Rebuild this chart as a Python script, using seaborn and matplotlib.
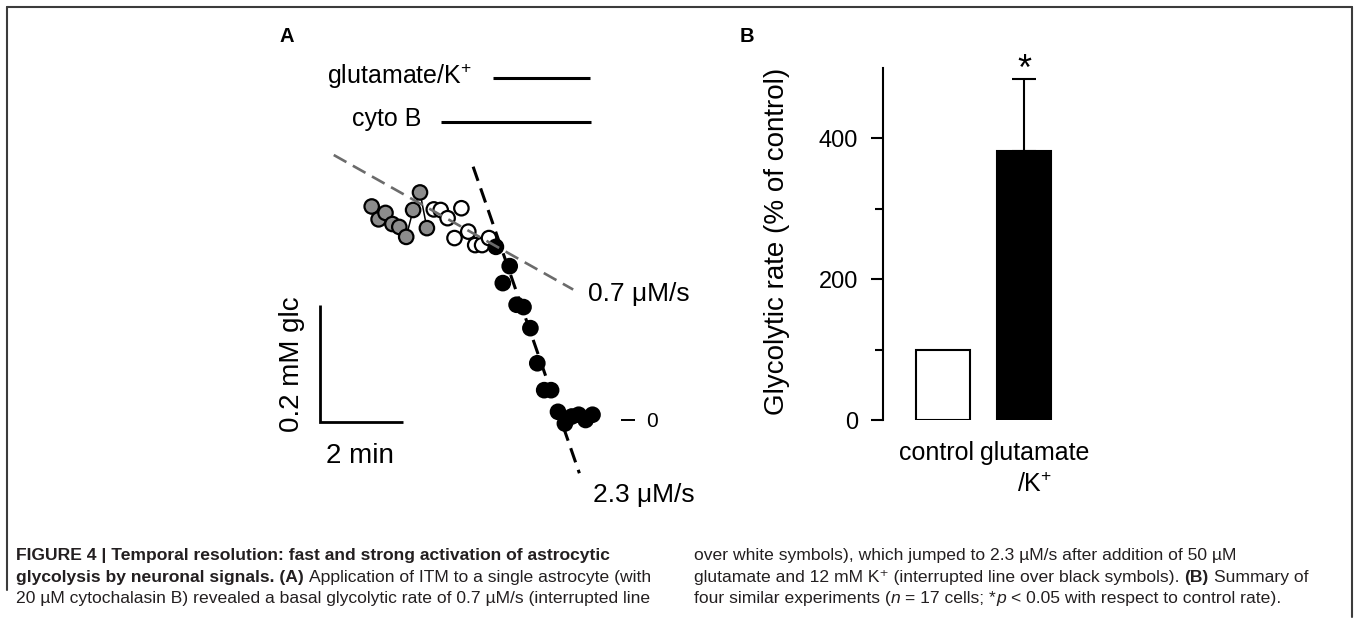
import numpy as np
import pandas as pd
import matplotlib
matplotlib.use("Agg")
import matplotlib.pyplot as plt
import seaborn as sns
from matplotlib import font_manager
from matplotlib.lines import Line2D
from matplotlib.transforms import ScaledTranslation

# ---------------- data: panel A (single astrocyte trace) ----------------
time_s = [0, 10, 20, 30, 40, 50, 60, 70, 80,
          90, 100, 110, 120, 130, 140, 150, 160, 170,
          180, 190, 200, 210, 220, 230, 240, 250, 260, 270, 280, 290, 300, 310, 320]
glc_mM = [0.365, 0.343, 0.354, 0.335, 0.330, 0.313, 0.359, 0.389, 0.328,
          0.360, 0.359, 0.345, 0.311, 0.362, 0.322, 0.299, 0.299, 0.311,
          0.296, 0.234, 0.263, 0.197, 0.193, 0.157, 0.097, 0.051, 0.051,
          0.014, -0.006, 0.006, 0.009, 0.000, 0.009]
phase = ["control"] * 9 + ["cyto B"] * 9 + ["glutamate/K+"] * 15
basal_fit_t = [-55, 292]
basal_fit_glc = [0.453, 0.223]
stim_fit_t = [147, 301]
stim_fit_glc = [0.433, -0.091]
glu_period_t = [176, 316]
cyto_period_t = [100, 318]
scale_t_s = 120
scale_glc_mM = 0.2
rate_labels = ["0.7 \u03bcM/s", "2.3 \u03bcM/s"]

# ---------------- data: panel B (summary) ----------------
conditions = ["control", "glutamate\n/K$^{+}$"]
rate_pct = [100, 382]
sem_pct = [0, 102]
yticks_major = [0, 200, 400]
yticks_minor = [100, 300]

# ---------------- style ----------------
sns.set_theme(style="white")
plt.rcParams["font.family"] = ["Liberation Sans", "DejaVu Sans"]
plt.rcParams["text.color"] = "black"
plt.rcParams["axes.labelcolor"] = "black"
plt.rcParams["xtick.color"] = "black"
plt.rcParams["ytick.color"] = "black"
plt.rcParams["mathtext.fontset"] = "custom"
plt.rcParams["mathtext.rm"] = "Liberation Sans"
plt.rcParams["mathtext.it"] = "Liberation Sans:italic"
plt.rcParams["mathtext.bf"] = "Liberation Sans:bold"

names = {f.name for f in font_manager.fontManager.ttflist}
cap_family = "Liberation Sans Narrow" if "Liberation Sans Narrow" in names else "Liberation Sans"

W, H = 1354, 623
fig = plt.figure(figsize=(W / 100, H / 100), dpi=100)
fig.patch.set_facecolor("white")


def fpos(x, y):
    return x / W, 1 - y / H


def add_axes_px(left, top, right, bottom):
    return fig.add_axes([left / W, 1 - bottom / H, (right - left) / W, (bottom - top) / H])


# ---------------- panel A ----------------
X0, PXS = 371.7, 0.69      # pixel of t=0, pixels per second
Y0, PXG = 420.0, 585.0     # pixel of glc=0, pixels per mM
L, T, R, B = 270, 20, 720, 520
axA = add_axes_px(L, T, R, B)
axA.set_xlim((L - X0) / PXS, (R - X0) / PXS)
axA.set_ylim((Y0 - B) / PXG, (Y0 - T) / PXG)
axA.axis("off")

dfA = pd.DataFrame({"t": time_s, "glc": glc_mM, "phase": phase})
sns.lineplot(data=dfA[dfA["phase"] == "control"], x="t", y="glc", sort=False,
             estimator=None, color="black", lw=1.1, ax=axA, zorder=1)
sns.scatterplot(data=dfA, x="t", y="glc", hue="phase",
                palette={"control": "#8c8c8c", "cyto B": "white", "glutamate/K+": "black"},
                s=108, edgecolor="black", linewidth=1.6, legend=False, ax=axA, zorder=2)
axA.plot(basal_fit_t, basal_fit_glc, color="#6b6b6b", lw=1.9, dashes=(5.5, 2.8), zorder=3)
axA.plot(stim_fit_t, stim_fit_glc, color="black", lw=2.2, dashes=(4.9, 2.6), zorder=3)

# application bars
axA.plot(glu_period_t, [0.585, 0.585], color="black", lw=2.2, solid_capstyle="butt")
axA.plot(cyto_period_t, [0.509, 0.509], color="black", lw=2.2, solid_capstyle="butt")

# scale bars
o_t, o_g = -75, -0.003
axA.plot([o_t, o_t, o_t + scale_t_s], [o_g + scale_glc_mM, o_g, o_g],
         color="black", lw=2.0, solid_joinstyle="miter", solid_capstyle="butt")
# zero level mark
axA.plot([361, 382], [0, 0], color="black", lw=1.4, solid_capstyle="butt")

fig.text(*fpos(279, 42), "A", fontsize=14.5, fontweight="bold", va="baseline")
fig.text(*fpos(327, 84), "glutamate/K$^{+}$", fontsize=18, va="baseline")
fig.text(*fpos(352, 126), "cyto B", fontsize=18, va="baseline")
fig.text(*fpos(588, 301), rate_labels[0], fontsize=19, va="baseline")
fig.text(*fpos(593, 502), rate_labels[1], fontsize=19, va="baseline")
fig.text(*fpos(646, 427), "0", fontsize=15, va="baseline")
fig.text(*fpos(360, 463), "2 min", fontsize=20, ha="center", va="baseline")
fig.text(*fpos(292, 364), "0.2 mM glc", fontsize=20, ha="center", va="center", rotation=90)

# ---------------- panel B ----------------
axB = add_axes_px(882.7, 67.7, 1072, 420.3)
dfB = pd.DataFrame({"condition": conditions, "rate": rate_pct})
sns.barplot(data=dfB, x="condition", y="rate", hue="condition",
            palette=["white", "black"], edgecolor="black", linewidth=1.5,
            width=0.67, legend=False, errorbar=None, ax=axB)
pos = np.arange(len(conditions))
for p, v, e in zip(pos, rate_pct, sem_pct):
    if e > 0:
        axB.errorbar([p], [v], yerr=[[0], [e]], fmt="none", ecolor="black",
                     elinewidth=1.5, capsize=8.3, capthick=1.5, zorder=1)
axB.set_xlim(-0.75, 1.6)
axB.set_ylim(0, 500)
axB.set_facecolor("none")
for s in ["top", "right", "bottom"]:
    axB.spines[s].set_visible(False)
axB.spines["left"].set_linewidth(1.5)
axB.spines["left"].set_color("black")
axB.set_yticks(yticks_major)
axB.set_yticklabels([str(v) for v in yticks_major])
axB.set_yticks(yticks_minor, minor=True)
axB.tick_params(axis="y", which="major", direction="out", length=8.6, width=1.5,
                pad=9, labelsize=17, left=True, color="black", labelcolor="black")
axB.tick_params(axis="y", which="minor", direction="out", length=5.8, width=1.5,
                left=True, color="black")
axB.set_xticks(pos)
axB.set_xticklabels(conditions)
axB.tick_params(axis="x", length=0, pad=15, labelsize=18, labelcolor="black")
for lab, dx in zip(axB.get_xticklabels(), [-7, 11]):
    lab.set_linespacing(1.4)
    lab.set_transform(lab.get_transform() + ScaledTranslation(dx / 100, 0, fig.dpi_scale_trans))
axB.set_xlabel("")
axB.set_ylabel("Glycolytic rate (% of control)", fontsize=20, color="black")
axB.yaxis.set_label_coords((790 - 882.7) / (1072 - 882.7), 0.507)
axB.grid(False)

fig.text(*fpos(1024, 80), "*", fontsize=26, ha="center", va="baseline")
fig.text(*fpos(740, 42), "B", fontsize=14.5, fontweight="bold", va="baseline")

# ---------------- frame ----------------
fcol = "#3c3c3c"
fig.add_artist(Line2D([fpos(7, 0)[0], fpos(1352, 0)[0]], [fpos(0, 7)[1]] * 2,
                      transform=fig.transFigure, color=fcol, lw=1.5))
fig.add_artist(Line2D([fpos(7, 0)[0]] * 2, [fpos(0, 7)[1], fpos(0, 590)[1]],
                      transform=fig.transFigure, color=fcol, lw=1.5))
fig.add_artist(Line2D([fpos(1352, 0)[0]] * 2, [fpos(0, 7)[1], fpos(0, 617)[1]],
                      transform=fig.transFigure, color=fcol, lw=1.5))

# ---------------- caption ----------------
renderer = fig.canvas.get_renderer()
cap_color = "#231f20"
fam = [cap_family, "DejaVu Sans"]


def text_width(s, size, weight="normal", style="normal"):
    t = fig.text(0, 0, s, fontsize=size, fontweight=weight, fontstyle=style, family=fam)
    w = t.get_window_extent(renderer=renderer).width
    t.remove()
    return w


def run_width(runs, size):
    total = 0.0
    for s, wt, st in runs:
        core = s.strip()
        sp = text_width("a a", size, wt, st) - text_width("aa", size, wt, st)
        total += text_width(core, size, wt, st) if core else 0.0
        total += sp * ((len(s) - len(s.lstrip())) + (len(s) - len(s.rstrip())))
    return total


def draw_runs(x, y, runs, size):
    for s, wt, st in runs:
        sp = text_width("a a", size, wt, st) - text_width("aa", size, wt, st)
        lead = len(s) - len(s.lstrip())
        trail = len(s) - len(s.rstrip())
        core = s.strip()
        x += lead * sp
        if core:
            fig.text(*fpos(x, y), core, fontsize=size, fontweight=wt, fontstyle=st,
                     family=fam, color=cap_color, va="baseline", ha="left")
            x += text_width(core, size, wt, st)
        x += trail * sp


N, BLD, IT = "normal", "bold", "italic"
left_lines = [
    [("FIGURE 4 | Temporal resolution: fast and strong activation of astrocytic", BLD, N)],
    [("glycolysis by neuronal signals. (A)", BLD, N),
     (" Application of ITM to a single astrocyte (with", N, N)],
    [("20 \u00b5M cytochalasin B) revealed a basal glycolytic rate of 0.7 \u00b5M/s (interrupted line", N, N)],
]
right_lines = [
    [("over white symbols), which jumped to 2.3 \u00b5M/s after addition of 50 \u00b5M", N, N)],
    [("glutamate and 12 mM K\u207a (interrupted line over black symbols). ", N, N),
     ("(B)", BLD, N), (" Summary of", N, N)],
    [("four similar experiments (", N, N), ("n", N, IT), (" = 17 cells; *", N, N),
     ("p", N, IT), (" < 0.05 with respect to control rate).", N, N)],
]
base = 10.0
cap_size = base * 615.0 / run_width(right_lines[1], base)
baselines = [560, 582, 603]
for runs, yb in zip(left_lines, baselines):
    draw_runs(16, yb, runs, cap_size)
for runs, yb in zip(right_lines, baselines):
    draw_runs(694, yb, runs, cap_size)

fig.savefig("out.png", dpi=100, facecolor="white")
